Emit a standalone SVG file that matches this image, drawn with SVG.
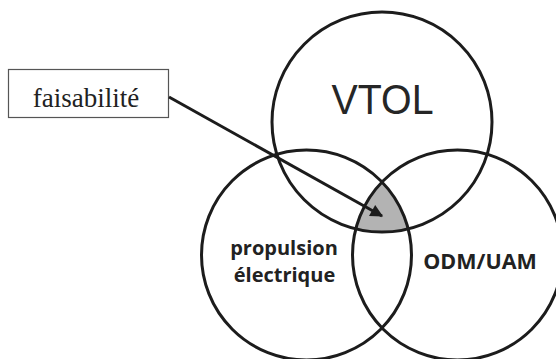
<svg xmlns="http://www.w3.org/2000/svg" width="556" height="359" viewBox="0 0 556 359">
  <style>
    .ring { fill: none; stroke: #1c1c1c; stroke-width: 3; }
    .lbl { font-family: "Open Sans", "Noto Sans", sans-serif; font-weight: 700; fill: #222222; text-anchor: middle; }
    .conn { stroke: #1c1c1c; stroke-width: 3; fill: none; }
  </style>
  <defs>
    <clipPath id="clipLeft"><circle cx="306.5" cy="255" r="105"/></clipPath>
    <clipPath id="clipRight"><circle cx="457.5" cy="255" r="105"/></clipPath>
    <marker id="head" viewBox="0 0 10 10" refX="9" refY="5" markerWidth="4.8" markerHeight="4.2" orient="auto" markerUnits="strokeWidth">
      <path d="M0,0 L10,5 L0,10 z" fill="#1c1c1c"/>
    </marker>
  </defs>
  <rect width="556" height="359" fill="#ffffff"/>

  <!-- shared region of all three sets -->
  <g id="overlap" clip-path="url(#clipLeft)">
    <circle cx="382" cy="122" r="110" fill="#b3b3b3" clip-path="url(#clipRight)"/>
  </g>

  <g id="vtol">
    <circle class="ring" cx="382" cy="122" r="110"/>
    <text x="382.5" y="114" font-family="'Liberation Sans', Arial, sans-serif" font-size="42" fill="#262626" text-anchor="middle" textLength="102" lengthAdjust="spacingAndGlyphs">VTOL</text>
  </g>

  <g id="propulsion">
    <circle class="ring" cx="306.5" cy="255" r="105"/>
    <text class="lbl" x="284" y="255" font-size="20">propulsion</text>
    <text class="lbl" x="284.5" y="282" font-size="20">électrique</text>
  </g>

  <g id="odm-uam">
    <circle class="ring" cx="457.5" cy="255" r="105"/>
    <text class="lbl" x="480" y="268.5" font-size="21.5">ODM/UAM</text>
  </g>

  <g id="faisabilite">
    <rect x="8.5" y="69.5" width="160" height="48" fill="#ffffff" stroke="#555555" stroke-width="1.2"/>
    <text x="86" y="106.5" font-family="'Liberation Serif', 'Times New Roman', serif" font-size="27" fill="#222222" text-anchor="middle">faisabilité</text>
  </g>

  <g id="connectors">
    <line class="conn" x1="169" y1="97" x2="382" y2="216" marker-end="url(#head)"/>
  </g>
</svg>
